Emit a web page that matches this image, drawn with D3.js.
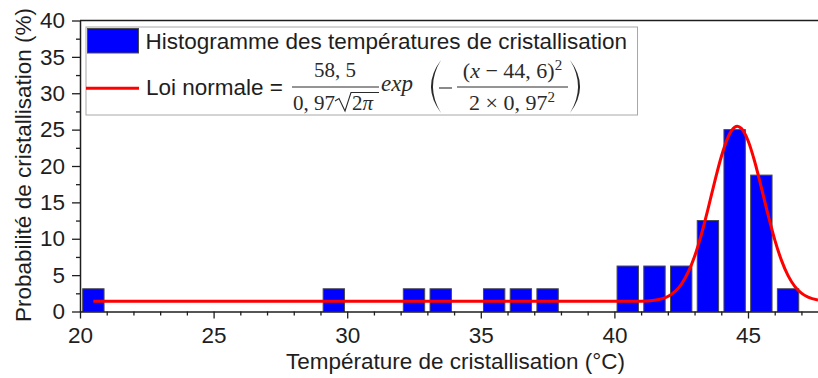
<!DOCTYPE html>
<html><head><meta charset="utf-8">
<script src="https://cdn.jsdelivr.net/npm/d3@7"></script>
<style>
html,body{margin:0;padding:0;background:#fff;}
svg{display:block;}
</style>
</head><body>
<svg id="chart" width="818" height="378"></svg>
<script>
// ---- data ----
const binStart = [20, 29, 32, 33, 35, 36, 37, 40, 41, 42, 43, 44, 45, 46];
const percent  = [3.125, 3.125, 3.125, 3.125, 3.125, 3.125, 3.125, 6.25, 6.25, 6.25, 12.5, 25, 18.75, 3.125];
const curveX = [20.5, 38, 40, 41, 41.5, 42, 42.5, 43, 43.25, 43.5, 43.75, 44, 44.25, 44.5, 44.6, 44.75, 45, 45.25, 45.5, 45.75, 46, 46.25, 46.5, 46.75, 47, 47.25, 47.62];
const curveY = [1.4, 1.4, 1.4, 1.42, 1.55, 2.06, 3.71, 7.57, 10.54, 14.05, 17.79, 21.27, 23.94, 25.33, 25.46, 25.17, 23.5, 20.62, 17.04, 13.31, 9.89, 7.06, 4.93, 3.46, 2.53, 1.98, 1.57];
const xTicks = [20, 25, 30, 35, 40, 45];
const yTicks = [0, 5, 10, 15, 20, 25, 30, 35, 40];
const xLabel = "Température de cristallisation (°C)";
const yLabel = "Probabilité de cristallisation (%)";
const legendHist = "Histogramme des températures de cristallisation";
const legendFit = "Loi normale =";

// ---- layout ----
const svg = d3.select("#chart");
const x = d3.scaleLinear().domain([20, 47.62]).range([80, 818]);
const y = d3.scaleLinear().domain([0, 40]).range([311.5, 20.5]);
const ink = "#1e1e1e";
const sans = "'Liberation Sans', Arial, sans-serif";
const serif = "'Liberation Serif', 'Times New Roman', serif";

// bars
svg.append("g").selectAll("rect").data(binStart).join("rect")
  .attr("x", d => x(d + 0.1))
  .attr("width", d => x(d + 0.9) - x(d + 0.1))
  .attr("y", (d, i) => y(percent[i]))
  .attr("height", (d, i) => y(0) - y(percent[i]))
  .attr("fill", "#0000ff")
  .attr("stroke", "#4a4a4a")
  .attr("stroke-width", 1);

// curve
const pts = curveX.map((v, i) => [v, curveY[i]]);
svg.append("path").datum(pts)
  .attr("d", d3.line().x(d => x(d[0])).y(d => y(d[1])).curve(d3.curveMonotoneX))
  .attr("fill", "none").attr("stroke", "#ff0000").attr("stroke-width", 3);

// axes
function styleAxis(g) {
  g.selectAll("path.domain").attr("stroke", ink).attr("stroke-width", 1.5);
  g.selectAll(".tick line").attr("stroke", ink).attr("stroke-width", 1.3);
  g.selectAll("text").attr("fill", ink).attr("font-family", sans).attr("font-size", "22.5px");
}
const xMinor = d3.range(20, 48, 1).filter(v => !xTicks.includes(v));
svg.append("g").attr("transform", `translate(0,${y(0)})`)
  .call(d3.axisBottom(x).tickValues(xMinor).tickSize(4).tickFormat(""))
  .call(g => g.select(".domain").remove())
  .call(styleAxis);
svg.append("g").attr("transform", `translate(0,${y(0)})`)
  .call(d3.axisBottom(x).tickValues(xTicks).tickSize(7).tickSizeOuter(0).tickPadding(9).tickFormat(d3.format("d")))
  .call(styleAxis);

const yMinor = d3.range(2.5, 40, 5);
svg.append("g").attr("transform", `translate(${x(20)},0)`)
  .call(d3.axisLeft(y).tickValues(yMinor).tickSize(4).tickFormat(""))
  .call(g => g.select(".domain").remove())
  .call(styleAxis);
svg.append("g").attr("transform", `translate(${x(20)},0)`)
  .call(d3.axisLeft(y).tickValues(yTicks).tickSize(8).tickSizeOuter(0).tickPadding(7).tickFormat(d3.format("d")))
  .call(styleAxis);

// top frame
svg.append("line").attr("x1", x(20)).attr("x2", 818).attr("y1", y(40)).attr("y2", y(40))
  .attr("stroke", ink).attr("stroke-width", 1.5);

// axis titles
svg.append("text").attr("x", 455.5).attr("y", 369).attr("text-anchor", "middle")
  .attr("font-family", sans).attr("font-size", "22.5px").attr("fill", ink).text(xLabel);
svg.append("text").attr("transform", "translate(31,165) rotate(-90)").attr("text-anchor", "middle")
  .attr("font-family", sans).attr("font-size", "22.5px").attr("fill", ink).text(yLabel);

// legend
const lg = svg.append("g");
lg.append("rect").attr("x", 86).attr("y", 27).attr("width", 551.5).attr("height", 88)
  .attr("fill", "#fff").attr("stroke", "#a8a8a8").attr("stroke-width", 1);
lg.append("rect").attr("x", 87.5).attr("y", 28.5).attr("width", 51).attr("height", 24.5)
  .attr("fill", "#0000ff").attr("stroke", "#4a4a4a").attr("stroke-width", 1);
lg.append("text").attr("x", 145.5).attr("y", 48.5).attr("font-family", sans).attr("font-size", "22.5px")
  .attr("fill", ink).text(legendHist);
lg.append("line").attr("x1", 86).attr("x2", 139).attr("y1", 88.3).attr("y2", 88.3)
  .attr("stroke", "#ff0000").attr("stroke-width", 3);
lg.append("text").attr("x", 146).attr("y", 95).attr("font-family", sans).attr("font-size", "22.5px")
  .attr("fill", ink).text(legendFit);

// formula
const mathInk = "#2a2a2a";
function mtext(xp, yp, anchor, size) {
  return lg.append("text").attr("x", xp).attr("y", yp).attr("text-anchor", anchor)
    .attr("font-family", serif).attr("font-size", (size || 21) + "px").attr("fill", mathInk)
    .attr("xml:space", "preserve");
}
// first fraction
mtext(335, 77, "middle").text("58, 5");
lg.append("line").attr("x1", 292).attr("x2", 379).attr("y1", 87).attr("y2", 87).attr("stroke", mathInk).attr("stroke-width", 1);
mtext(293, 110, "start").text("0, 97");
lg.append("path").attr("d", "M335,101 L339,98.5 L345,111 L351,92.5 L379,92.5")
  .attr("fill", "none").attr("stroke", mathInk).attr("stroke-width", 1.1);
const d2 = mtext(352, 110, "start");
d2.append("tspan").text("2");
d2.append("tspan").attr("font-style", "italic").text("π");
// exp
mtext(381, 91, "start", 23).attr("font-style", "italic").text("exp");
// big parentheses
lg.append("path").attr("d", "M441,60 Q421,86.5 441,113 Q425,86.5 441,60 Z").attr("fill", mathInk);
lg.append("path").attr("d", "M570,60 Q590,86.5 570,113 Q586,86.5 570,60 Z").attr("fill", mathInk);
// minus
lg.append("line").attr("x1", 439).attr("x2", 452).attr("y1", 88).attr("y2", 88).attr("stroke", mathInk).attr("stroke-width", 1.1);
// second fraction
const n2 = mtext(512.5, 78, "middle", 22);
n2.append("tspan").text("(");
n2.append("tspan").attr("font-style", "italic").text("x");
n2.append("tspan").text(" − 44, 6)");
n2.append("tspan").attr("font-size", "15px").attr("dy", -8).text("2");
lg.append("line").attr("x1", 457).attr("x2", 568).attr("y1", 87).attr("y2", 87).attr("stroke", mathInk).attr("stroke-width", 1);
const dn = mtext(512, 110, "middle", 22);
dn.append("tspan").text("2 × 0, 97");
dn.append("tspan").attr("font-size", "15px").attr("dy", -8).text("2");
</script>
</body></html>
